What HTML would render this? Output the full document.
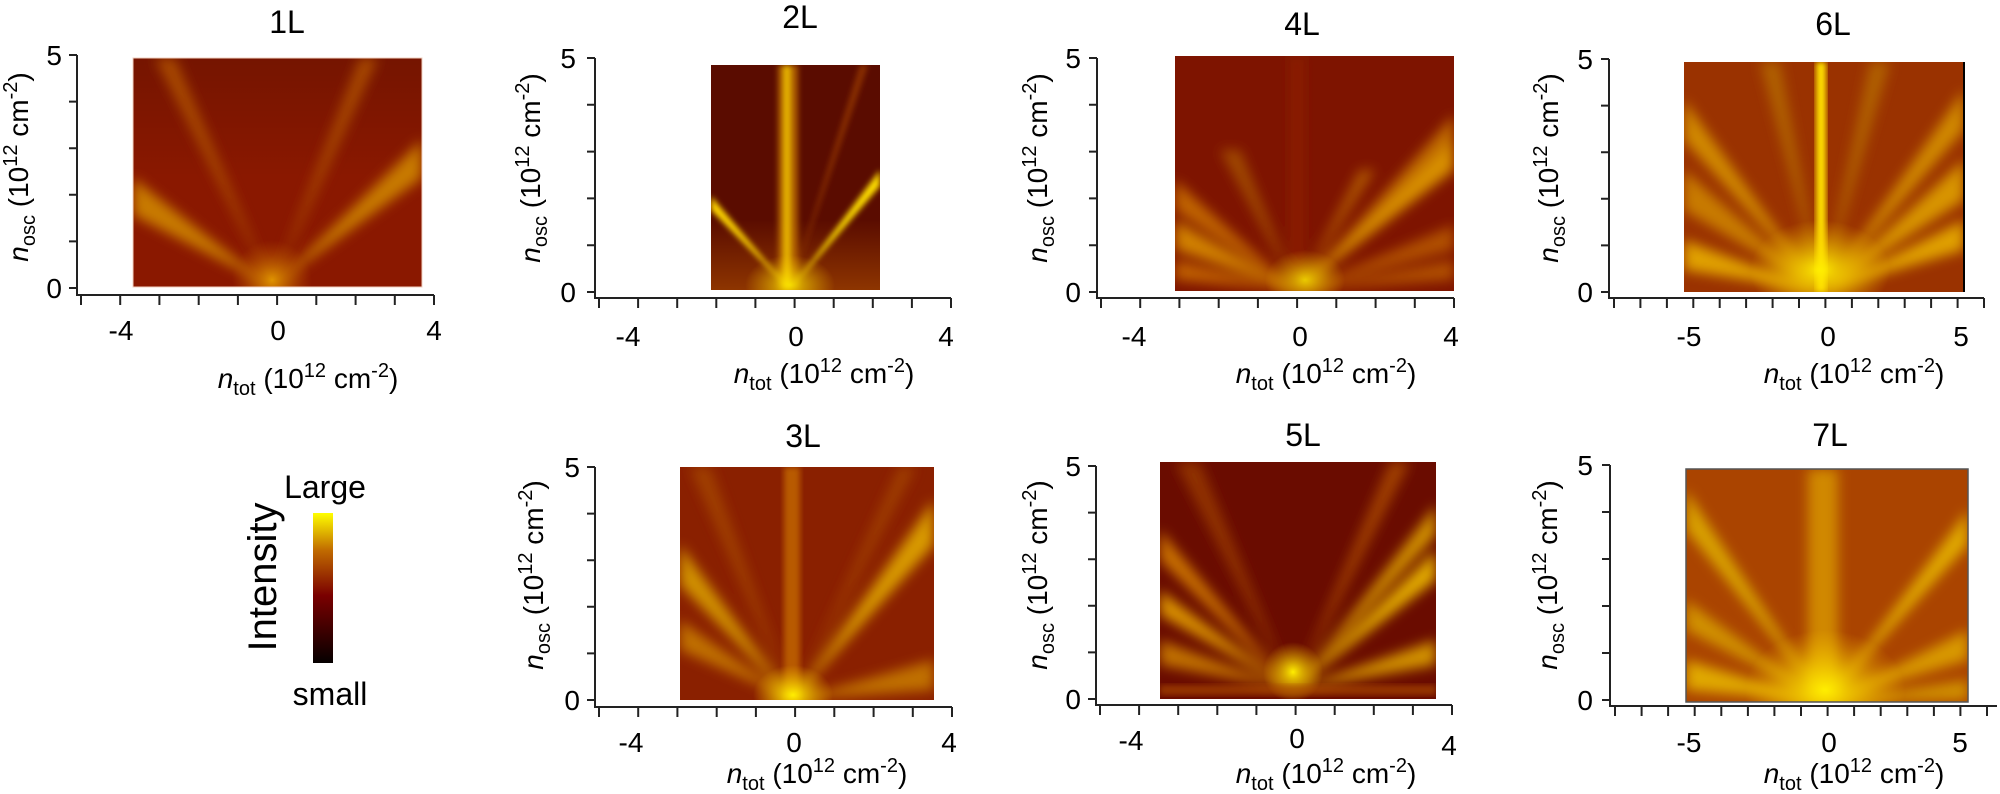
<!DOCTYPE html>
<html><head><meta charset="utf-8"><style>
html,body{margin:0;padding:0;background:#fff;}
svg{display:block;font-family:"Liberation Sans",sans-serif;}
</style></head><body>
<svg width="2000" height="794" viewBox="0 0 2000 794" xmlns="http://www.w3.org/2000/svg">
<defs>
<filter id="b3" x="-20%" y="-20%" width="140%" height="140%"><feGaussianBlur stdDeviation="3"/></filter>
<filter id="b6" x="-30%" y="-30%" width="160%" height="160%"><feGaussianBlur stdDeviation="6"/></filter>
<filter id="b12" x="-50%" y="-50%" width="200%" height="200%"><feGaussianBlur stdDeviation="12"/></filter>
<radialGradient id="glowY"><stop offset="0" stop-color="#ffee00" stop-opacity="1"/><stop offset="1" stop-color="#ffcc00" stop-opacity="0"/></radialGradient>
<radialGradient id="glowO"><stop offset="0" stop-color="#e8a000" stop-opacity="0.9"/><stop offset="1" stop-color="#c06000" stop-opacity="0"/></radialGradient>
<linearGradient id="cbar" x1="0" y1="1" x2="0" y2="0"><stop offset="0" stop-color="#050000"/><stop offset="0.45" stop-color="#7a0000"/><stop offset="0.75" stop-color="#c06a00"/><stop offset="1" stop-color="#ffff00"/></linearGradient>
<linearGradient id="botDark" x1="0" y1="0" x2="0" y2="1"><stop offset="0" stop-color="#000" stop-opacity="0.25"/><stop offset="1" stop-color="#000" stop-opacity="0"/></linearGradient>
<linearGradient id="botWarm" x1="0" y1="0" x2="0" y2="1"><stop offset="0" stop-color="#b05000" stop-opacity="0"/><stop offset="1" stop-color="#b05000" stop-opacity="0.6"/></linearGradient>
<clipPath id="c1"><rect x="133" y="58" width="289" height="229"/></clipPath>
<clipPath id="c2"><rect x="711" y="65" width="169" height="225"/></clipPath>
<clipPath id="c4"><rect x="1175" y="56" width="279" height="235"/></clipPath>
<clipPath id="c6"><rect x="1684" y="62" width="280" height="230"/></clipPath>
<clipPath id="c3"><rect x="680" y="467" width="254" height="233"/></clipPath>
<clipPath id="c5"><rect x="1160" y="462" width="276" height="237"/></clipPath>
<clipPath id="c7"><rect x="1686" y="469" width="282" height="233"/></clipPath>
</defs>

<g clip-path="url(#c1)">
<rect x="133" y="58" width="289" height="229" fill="#8a1800"/>
<rect x="133" y="58" width="289" height="120" fill="url(#botDark)" opacity="0.6"/>
<g filter="url(#b6)" fill="#c87a00">
<polygon points="272,287 133,178 133,215"/>
<polygon points="272,287 422,140 422,178"/>
</g>
<g filter="url(#b6)" fill="#a84a00">
<polygon points="272,287 155,58 175,58"/>
<polygon points="272,287 360,58 378,58"/>
</g>
<ellipse cx="272" cy="280" rx="40" ry="40" fill="url(#glowO)"/>
</g>
<rect x="133" y="58" width="289" height="229" fill="none" stroke="#f0d0c0" stroke-width="1"/>

<g clip-path="url(#c2)">
<rect x="711" y="65" width="169" height="225" fill="#5a0c00"/>
<rect x="711" y="220" width="169" height="70" fill="url(#botWarm)"/>
<g filter="url(#b3)">
<rect x="778" y="65" width="20" height="225" fill="#c07000" opacity="0.8"/>
<rect x="784" y="65" width="6" height="225" fill="#f0c000"/>
<polygon points="790,290 711,196 711,210" fill="#ffd800"/>
<polygon points="790,290 880,170 880,186" fill="#ffe000"/>
<polygon points="790,290 860,65 868,65" fill="#a04000" opacity="0.7"/>
</g>
<ellipse cx="790" cy="285" rx="45" ry="30" fill="url(#glowY)" opacity="0.8"/>
</g>

<g clip-path="url(#c4)">
<rect x="1175" y="56" width="279" height="235" fill="#7e1400"/>
<g filter="url(#b6)">
<polygon points="1297,291 1175,180 1175,210" fill="#c06400"/>
<polygon points="1297,291 1175,220 1175,250" fill="#d08000"/>
<polygon points="1297,291 1175,260 1175,280" fill="#c06000"/>
<polygon points="1297,291 1220,150 1240,150" fill="#a04800"/>
<polygon points="1297,291 1454,115 1454,140" fill="#c06a00"/>
<polygon points="1297,291 1454,140 1454,170" fill="#d89000"/>
<polygon points="1297,291 1454,225 1454,250" fill="#b05000"/>
<polygon points="1297,291 1454,260 1454,280" fill="#b05000"/>
<polygon points="1297,291 1360,170 1375,170" fill="#b05800"/>
<rect x="1292" y="56" width="10" height="235" fill="#902200"/>
</g>
<ellipse cx="1305" cy="280" rx="40" ry="30" fill="url(#glowY)" opacity="0.8"/>
</g>

<g clip-path="url(#c6)">
<rect x="1684" y="62" width="280" height="230" fill="#9a3200"/>
<g filter="url(#b6)">
<polygon points="1822,292 1684,100 1684,140" fill="#d08800"/>
<polygon points="1822,292 1684,170 1684,210" fill="#c87a00"/>
<polygon points="1822,292 1684,240 1684,270" fill="#e0a000"/>
<polygon points="1822,292 1964,90 1964,130" fill="#d08800"/>
<polygon points="1822,292 1964,160 1964,200" fill="#d89400"/>
<polygon points="1822,292 1964,220 1964,250" fill="#e0a000"/>
<polygon points="1822,292 1760,62 1780,62" fill="#b06000"/>
<polygon points="1822,292 1870,62 1890,62" fill="#b06000"/>
</g>
<g filter="url(#b3)"><rect x="1816" y="62" width="10" height="230" fill="#ffe000"/></g>
<ellipse cx="1820" cy="270" rx="70" ry="50" fill="url(#glowY)"/>
</g>
<line x1="1964" y1="62" x2="1964" y2="292" stroke="#000" stroke-width="2"/>

<g clip-path="url(#c3)">
<rect x="680" y="467" width="254" height="233" fill="#8a2000"/>
<g filter="url(#b6)">
<polygon points="793,700 680,545 680,585" fill="#d09000"/>
<polygon points="793,700 680,620 680,650" fill="#c07000"/>
<polygon points="793,700 690,467 710,467" fill="#a04000"/>
<polygon points="793,700 934,500 934,545" fill="#d89a00"/>
<polygon points="793,700 934,660 934,690" fill="#c07000"/>
<polygon points="793,700 900,467 915,467" fill="#a04000"/>
</g>
<g filter="url(#b3)"><rect x="784" y="467" width="16" height="233" fill="#b85a00"/></g>
<ellipse cx="793" cy="695" rx="40" ry="30" fill="url(#glowY)"/>
</g>

<g clip-path="url(#c5)">
<rect x="1160" y="462" width="276" height="237" fill="#6a0c00"/>
<g filter="url(#b6)">
<polygon points="1293,690 1160,530 1160,560" fill="#c87000"/>
<polygon points="1293,690 1160,590 1160,615" fill="#d89000"/>
<polygon points="1293,690 1160,640 1160,665" fill="#c07000"/>
<polygon points="1293,690 1175,462 1200,462" fill="#903000"/>
<polygon points="1293,690 1436,505 1436,535" fill="#d09000"/>
<polygon points="1293,690 1436,550 1436,580" fill="#e0a800"/>
<polygon points="1293,690 1436,640 1436,665" fill="#d09000"/>
<polygon points="1293,690 1390,462 1410,462" fill="#a04000"/>
</g>
<ellipse cx="1293" cy="672" rx="30" ry="30" fill="url(#glowY)"/>
<rect x="1160" y="685" width="276" height="10" fill="#b05000" opacity="0.6" filter="url(#b3)"/>
</g>

<g clip-path="url(#c7)">
<rect x="1686" y="469" width="282" height="233" fill="#aa4400"/>
<g filter="url(#b6)">
<polygon points="1825,702 1686,490 1686,530" fill="#d8a000"/>
<polygon points="1825,702 1686,600 1686,630" fill="#d09000"/>
<polygon points="1825,702 1686,660 1686,690" fill="#e0a800"/>
<polygon points="1825,702 1968,510 1968,545" fill="#e0a800"/>
<polygon points="1825,702 1968,630 1968,660" fill="#d89800"/>
<polygon points="1825,702 1968,680 1968,700" fill="#d09000"/>
<rect x="1808" y="469" width="30" height="233" fill="#d08800"/>
</g>
<ellipse cx="1825" cy="690" rx="80" ry="60" fill="url(#glowY)"/>
</g>
<rect x="1686" y="469" width="282" height="233" fill="none" stroke="#555" stroke-width="1.5"/>

<g stroke="#222" stroke-width="2" fill="none">
<path d="M77,55 V295 H434"/>
<path d="M69,55H77M69,101.6H77M69,148.2H77M69,194.8H77M69,241.4H77M69,288H77"/>
<path d="M81,295v10M120.2,295v10M159.4,295v10M198.7,295v10M237.9,295v10M277.1,295v10M316.3,295v10M355.6,295v10M394.8,295v10M434,295v10"/>
<path d="M595,58 V298 H951"/>
<path d="M587,58H595M587,104.8H595M587,151.6H595M587,198.4H595M587,245.2H595M587,292H595"/>
<path d="M599,298v10M638.1,298v10M677.2,298v10M716.3,298v10M755.4,298v10M794.6,298v10M833.7,298v10M872.8,298v10M911.9,298v10M951,298v10"/>
<path d="M1097,58 V298 H1454"/>
<path d="M1089,58H1097M1089,104.8H1097M1089,151.6H1097M1089,198.4H1097M1089,245.2H1097M1089,292H1097"/>
<path d="M1101,298v10M1140.2,298v10M1179.4,298v10M1218.7,298v10M1257.9,298v10M1297.1,298v10M1336.3,298v10M1375.6,298v10M1414.8,298v10M1454,298v10"/>
<path d="M1609,59 V298 H1984"/>
<path d="M1601,59H1609M1601,105.6H1609M1601,152.2H1609M1601,198.8H1609M1601,245.4H1609M1601,292H1609"/>
<path d="M1614,298v10M1640.4,298v10M1666.9,298v10M1693.3,298v10M1719.7,298v10M1746.1,298v10M1772.6,298v10M1799,298v10M1825.4,298v10M1851.9,298v10M1878.3,298v10M1904.7,298v10M1931.1,298v10M1957.6,298v10M1984,298v10"/>
<path d="M595,467 V707 H952"/>
<path d="M587,467H595M587,513.6H595M587,560.2H595M587,606.8H595M587,653.4H595M587,700H595"/>
<path d="M599,707v10M638.2,707v10M677.4,707v10M716.7,707v10M755.9,707v10M795.1,707v10M834.3,707v10M873.6,707v10M912.8,707v10M952,707v10"/>
<path d="M1096,466 V705 H1452"/>
<path d="M1088,466H1096M1088,512.6H1096M1088,559.2H1096M1088,605.8H1096M1088,652.4H1096M1088,699H1096"/>
<path d="M1100,705v10M1139.1,705v10M1178.2,705v10M1217.3,705v10M1256.4,705v10M1295.6,705v10M1334.7,705v10M1373.8,705v10M1412.9,705v10M1452,705v10"/>
<path d="M1610,465 V706 H1997"/>
<path d="M1602,465H1610M1602,512H1610M1602,559H1610M1602,606H1610M1602,653H1610M1602,700H1610"/>
<path d="M1615,706v10M1641.6,706v10M1668.1,706v10M1694.7,706v10M1721.3,706v10M1747.9,706v10M1774.4,706v10M1801,706v10M1827.6,706v10M1854.1,706v10M1880.7,706v10M1907.3,706v10M1933.9,706v10M1960.4,706v10M1987,706v10"/>
</g>

<g font-size="32" text-anchor="middle" fill="#000">
<text x="287" y="33">1L</text>
<text x="800" y="28">2L</text>
<text x="1302" y="35">4L</text>
<text x="1833" y="35">6L</text>
<text x="803" y="447">3L</text>
<text x="1303" y="446">5L</text>
<text x="1830" y="446">7L</text>
</g>

<g font-size="28" fill="#000">
<g text-anchor="end">
<text x="62" y="65">5</text><text x="62" y="298">0</text>
<text x="576" y="68">5</text><text x="576" y="302">0</text>
<text x="1081" y="68">5</text><text x="1081" y="302">0</text>
<text x="1593" y="69">5</text><text x="1593" y="302">0</text>
<text x="580" y="477">5</text><text x="580" y="710">0</text>
<text x="1081" y="476">5</text><text x="1081" y="709">0</text>
<text x="1593" y="475">5</text><text x="1593" y="710">0</text>
</g>
<g text-anchor="middle">
<text x="121" y="340">-4</text><text x="278" y="340">0</text><text x="434" y="340">4</text>
<text x="628" y="346">-4</text><text x="796" y="346">0</text><text x="946" y="346">4</text>
<text x="1134" y="346">-4</text><text x="1300" y="346">0</text><text x="1451" y="346">4</text>
<text x="1689" y="346">-5</text><text x="1828" y="346">0</text><text x="1961" y="346">5</text>
<text x="631" y="752">-4</text><text x="794" y="752">0</text><text x="949" y="752">4</text>
<text x="1131" y="750">-4</text><text x="1297" y="748">0</text><text x="1449" y="755">4</text>
<text x="1689" y="752">-5</text><text x="1829" y="752">0</text><text x="1960" y="752">5</text>
</g>
</g>

<g font-size="28" text-anchor="middle" fill="#000">
<text x="308" y="388"><tspan font-style="italic">n</tspan><tspan font-size="20" dy="7">tot</tspan><tspan dy="-7"> (10</tspan><tspan font-size="20" dy="-11">12</tspan><tspan dy="11"> cm</tspan><tspan font-size="20" dy="-11">-2</tspan><tspan dy="11">)</tspan></text>
<text x="824" y="383"><tspan font-style="italic">n</tspan><tspan font-size="20" dy="7">tot</tspan><tspan dy="-7"> (10</tspan><tspan font-size="20" dy="-11">12</tspan><tspan dy="11"> cm</tspan><tspan font-size="20" dy="-11">-2</tspan><tspan dy="11">)</tspan></text>
<text x="1326" y="383"><tspan font-style="italic">n</tspan><tspan font-size="20" dy="7">tot</tspan><tspan dy="-7"> (10</tspan><tspan font-size="20" dy="-11">12</tspan><tspan dy="11"> cm</tspan><tspan font-size="20" dy="-11">-2</tspan><tspan dy="11">)</tspan></text>
<text x="1854" y="383"><tspan font-style="italic">n</tspan><tspan font-size="20" dy="7">tot</tspan><tspan dy="-7"> (10</tspan><tspan font-size="20" dy="-11">12</tspan><tspan dy="11"> cm</tspan><tspan font-size="20" dy="-11">-2</tspan><tspan dy="11">)</tspan></text>
<text x="817" y="783"><tspan font-style="italic">n</tspan><tspan font-size="20" dy="7">tot</tspan><tspan dy="-7"> (10</tspan><tspan font-size="20" dy="-11">12</tspan><tspan dy="11"> cm</tspan><tspan font-size="20" dy="-11">-2</tspan><tspan dy="11">)</tspan></text>
<text x="1326" y="783"><tspan font-style="italic">n</tspan><tspan font-size="20" dy="7">tot</tspan><tspan dy="-7"> (10</tspan><tspan font-size="20" dy="-11">12</tspan><tspan dy="11"> cm</tspan><tspan font-size="20" dy="-11">-2</tspan><tspan dy="11">)</tspan></text>
<text x="1854" y="783"><tspan font-style="italic">n</tspan><tspan font-size="20" dy="7">tot</tspan><tspan dy="-7"> (10</tspan><tspan font-size="20" dy="-11">12</tspan><tspan dy="11"> cm</tspan><tspan font-size="20" dy="-11">-2</tspan><tspan dy="11">)</tspan></text>
</g>

<g font-size="28" text-anchor="middle" fill="#000">
<text transform="translate(28,167) rotate(-90)"><tspan font-style="italic">n</tspan><tspan font-size="20" dy="7">osc</tspan><tspan dy="-7"> (10</tspan><tspan font-size="20" dy="-11">12</tspan><tspan dy="11"> cm</tspan><tspan font-size="20" dy="-11">-2</tspan><tspan dy="11">)</tspan></text>
<text transform="translate(540,168) rotate(-90)"><tspan font-style="italic">n</tspan><tspan font-size="20" dy="7">osc</tspan><tspan dy="-7"> (10</tspan><tspan font-size="20" dy="-11">12</tspan><tspan dy="11"> cm</tspan><tspan font-size="20" dy="-11">-2</tspan><tspan dy="11">)</tspan></text>
<text transform="translate(1047,168) rotate(-90)"><tspan font-style="italic">n</tspan><tspan font-size="20" dy="7">osc</tspan><tspan dy="-7"> (10</tspan><tspan font-size="20" dy="-11">12</tspan><tspan dy="11"> cm</tspan><tspan font-size="20" dy="-11">-2</tspan><tspan dy="11">)</tspan></text>
<text transform="translate(1558,168) rotate(-90)"><tspan font-style="italic">n</tspan><tspan font-size="20" dy="7">osc</tspan><tspan dy="-7"> (10</tspan><tspan font-size="20" dy="-11">12</tspan><tspan dy="11"> cm</tspan><tspan font-size="20" dy="-11">-2</tspan><tspan dy="11">)</tspan></text>
<text transform="translate(543,575) rotate(-90)"><tspan font-style="italic">n</tspan><tspan font-size="20" dy="7">osc</tspan><tspan dy="-7"> (10</tspan><tspan font-size="20" dy="-11">12</tspan><tspan dy="11"> cm</tspan><tspan font-size="20" dy="-11">-2</tspan><tspan dy="11">)</tspan></text>
<text transform="translate(1047,575) rotate(-90)"><tspan font-style="italic">n</tspan><tspan font-size="20" dy="7">osc</tspan><tspan dy="-7"> (10</tspan><tspan font-size="20" dy="-11">12</tspan><tspan dy="11"> cm</tspan><tspan font-size="20" dy="-11">-2</tspan><tspan dy="11">)</tspan></text>
<text transform="translate(1557,575) rotate(-90)"><tspan font-style="italic">n</tspan><tspan font-size="20" dy="7">osc</tspan><tspan dy="-7"> (10</tspan><tspan font-size="20" dy="-11">12</tspan><tspan dy="11"> cm</tspan><tspan font-size="20" dy="-11">-2</tspan><tspan dy="11">)</tspan></text>
</g>

<rect x="313" y="513" width="20" height="150" fill="url(#cbar)"/>
<text x="325" y="498" font-size="32" text-anchor="middle">Large</text>
<text x="330" y="705" font-size="32" text-anchor="middle">small</text>
<text transform="translate(276,577) rotate(-90)" font-size="40" text-anchor="middle">Intensity</text>
</svg>
</body></html>
